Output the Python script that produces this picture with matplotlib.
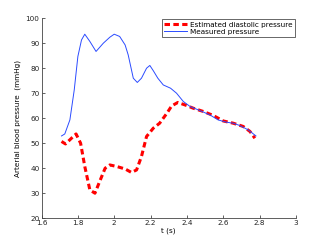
import numpy as np
import matplotlib
matplotlib.use('Agg')
import matplotlib.pyplot as plt

# Pressao medida (linha azul)
t_measured = [1.71, 1.728, 1.756, 1.78, 1.80, 1.82, 1.838, 1.866, 1.90, 1.94, 1.976,
              2.00, 2.03, 2.06, 2.077, 2.105, 2.127, 2.15, 2.178, 2.196, 2.215, 2.24,
              2.27, 2.31, 2.343, 2.38, 2.417, 2.47, 2.527, 2.572, 2.618, 2.655, 2.69,
              2.738, 2.78]
p_measured = [52.9, 53.7, 59.3, 71.3, 84.7, 91.3, 93.6, 90.7, 86.7, 90.0, 92.4,
              93.6, 92.7, 89.3, 85.3, 76.0, 74.3, 76.0, 80.0, 81.1, 79.0, 76.0,
              73.3, 72.0, 70.0, 66.7, 64.7, 63.1, 61.3, 59.3, 58.4, 58.0, 57.1,
              55.3, 52.9]

# Pressao diastolica estimada (linha vermelha tracejada)
t_estimated = [1.71, 1.732, 1.765, 1.79, 1.815, 1.838, 1.866, 1.894, 1.92, 1.95, 1.976,
               2.013, 2.06, 2.095, 2.123, 2.15, 2.178, 2.215, 2.25, 2.29, 2.316, 2.35,
               2.39, 2.435, 2.49, 2.545, 2.60, 2.655, 2.71, 2.747, 2.774]
p_estimated = [50.7, 49.7, 52.0, 53.7, 50.0, 40.7, 31.3, 30.0, 34.7, 40.0, 41.3,
               40.7, 39.7, 38.3, 39.3, 44.7, 52.7, 56.0, 58.0, 62.0, 64.9, 66.3,
               65.3, 64.0, 62.7, 61.1, 58.9, 58.0, 56.7, 54.7, 52.0]

x_ticks = [1.6, 1.8, 2.0, 2.2, 2.4, 2.6, 2.8, 3.0]
x_labels = ['1.6', '1.8', '2', '2.2', '2.4', '2.6', '2.8', '3']
y_ticks = [20, 30, 40, 50, 60, 70, 80, 90, 100]

fig = plt.figure(figsize=(3.27, 2.46), dpi=100)
ax = fig.add_axes([0.127, 0.113, 0.778, 0.813])

ax.plot(t_estimated, p_estimated, '--', color='#ff0000', linewidth=2.2,
        dashes=(1.8, 1.1), label='Estimated diastolic pressure')
ax.plot(t_measured, p_measured, '-', color='#2b4bff', linewidth=0.7,
        label='Measured pressure')

ax.set_xlim(1.6, 3.0)
ax.set_ylim(20, 100)
ax.set_xticks(x_ticks)
ax.set_xticklabels(x_labels)
ax.set_yticks(y_ticks)

for side in ['top', 'right']:
    ax.spines[side].set_visible(False)
for side in ['left', 'bottom']:
    ax.spines[side].set_color('#444444')
    ax.spines[side].set_linewidth(0.6)

ax.tick_params(direction='in', length=2.5, width=0.5, labelsize=5.2,
               colors='#222222', pad=1.5)
ax.set_xlabel('t (s)', fontsize=5.2, labelpad=1)
ax.set_ylabel('Arterial blood pressure  (mmHg)', fontsize=5.2, labelpad=3)

leg = ax.legend(loc='upper right', fontsize=5.2, frameon=True, fancybox=False,
                borderpad=0.3, handlelength=3.2, labelspacing=0.2,
                borderaxespad=0.15, handletextpad=0.4)
leg.get_frame().set_edgecolor('#222222')
leg.get_frame().set_linewidth(0.6)

fig.savefig('out.png', dpi=100)
